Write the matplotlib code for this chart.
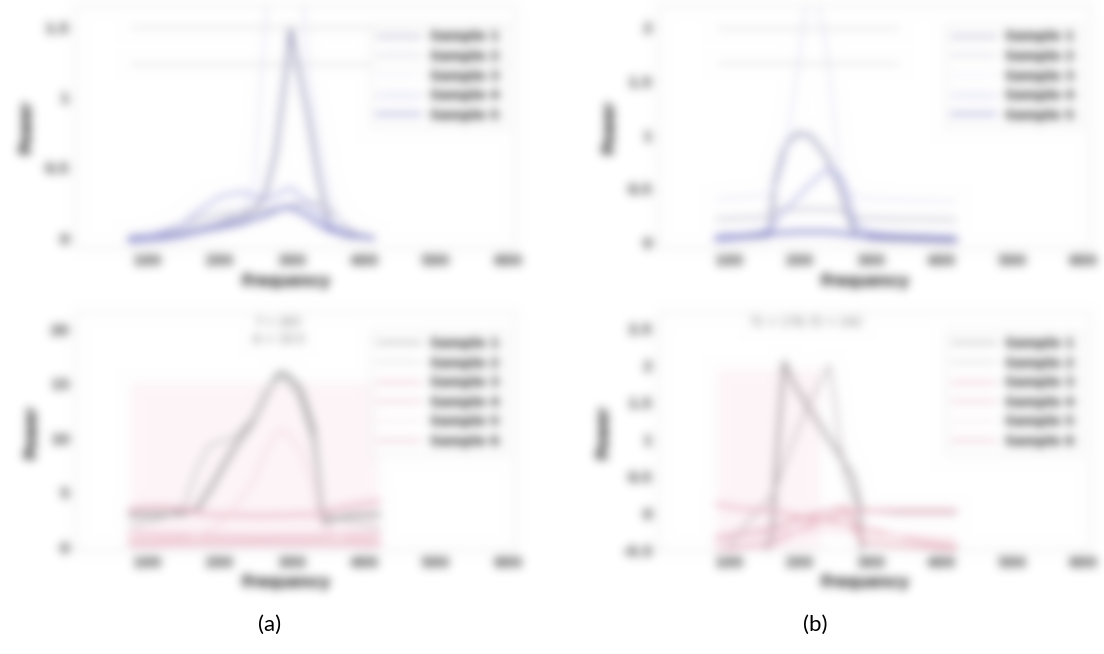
import numpy as np
import matplotlib
matplotlib.use("Agg")
import matplotlib.pyplot as plt

# ---------------------------------------------------------------- data
X_LIM = (0, 610)
X_TICKS = [100, 200, 300, 400, 500, 600]
X_TICK_LABELS = ["100", "200", "300", "400", "500", "600"]
X_LABEL = "Frequency"
Y_LABEL = "Power"

SERIES_LABELS_TOP = ["Sample 1", "Sample 2", "Sample 3", "Sample 4", "Sample 5"]
SERIES_LABELS_BOTTOM = ["Sample 1", "Sample 2", "Sample 3", "Sample 4",
                        "Sample 5", "Sample 6"]

# (a) upper panel
XA = [76, 100, 125, 150, 173, 203, 233, 248, 263, 278, 293, 299, 308, 323,
      338, 353, 368, 383, 398, 413]
A1 = [0.01, 0.02, 0.03, 0.05, 0.08, 0.11, 0.15, 0.2, 0.3, 0.6, 1.2, 1.49,
      1.25, 0.88, 0.42, 0.08, 0.03, 0.01, 0.01, 0.0]
A2 = [0.0, 0.01, 0.02, 0.04, 0.08, 0.12, 0.2, 0.38, 1.45, 2.6, 3.2, 3.1,
      2.4, 1.2, 0.7, 0.3, 0.1, 0.03, 0.01, 0.0]
A3 = [0.0, 0.02, 0.05, 0.1, 0.2, 0.3, 0.33, 0.3, 0.28, 0.3, 0.35, 0.36,
      0.32, 0.25, 0.18, 0.1, 0.05, 0.02, 0.01, 0.0]
A4 = [-0.02, -0.01, 0.0, 0.02, 0.05, 0.08, 0.11, 0.14, 0.16, 0.2, 0.22, 0.22,
      0.2, 0.16, 0.1, 0.06, 0.04, 0.02, 0.01, 0.0]
A5 = [0.0, 0.02, 0.05, 0.1, 0.15, 0.17, 0.19, 0.2, 0.2, 0.21, 0.22, 0.23,
      0.24, 0.25, 0.25, 0.2, 0.12, 0.05, 0.02, 0.01]
A_REF = [1.5, 1.24]
A_YTICKS = [0, 0.5, 1, 1.5]
A_YTICK_LABELS = ["0", "0.5", "1", "1.5"]
A_YLIM = (-0.07, 1.66)

# (b) upper panel
XB = [83, 100, 115, 130, 150, 158, 165, 179, 197, 216, 238, 258, 266, 276,
      280, 300, 336, 380, 420]
B1 = [0.02, 0.03, 0.04, 0.05, 0.06, 0.07, 0.56, 0.89, 1.02, 0.99, 0.8, 0.49,
      0.3, 0.12, 0.08, 0.04, 0.03, 0.02, 0.01]
B2 = [0.02, 0.03, 0.04, 0.06, 0.1, 0.14, 0.2, 0.3, 0.42, 0.55, 0.68, 0.62,
      0.49, 0.25, 0.15, 0.09, 0.06, 0.04, 0.03]
B3 = [0.22, 0.22, 0.23, 0.23, 0.24, 0.26, 0.3, 0.31, 0.31, 0.31, 0.31, 0.3,
      0.27, 0.24, 0.23, 0.23, 0.22, 0.22, 0.21]
B4 = [0.05, 0.06, 0.06, 0.07, 0.08, 0.08, 0.09, 0.09, 0.1, 0.1, 0.1, 0.09,
      0.08, 0.07, 0.07, 0.06, 0.06, 0.05, 0.04]
B5 = [0.4, 0.41, 0.42, 0.43, 0.44, 0.45, 0.5, 0.8, 1.6, 2.6, 1.8, 0.6, 0.48,
      0.44, 0.43, 0.41, 0.4, 0.39, 0.38]
B_REF = [2.0, 1.67]
B_YTICKS = [0, 0.5, 1, 1.5, 2]
B_YTICK_LABELS = ["0", "0.5", "1", "1.5", "2"]
B_YLIM = (-0.05, 2.21)

# (a) lower panel
XC = [76, 90, 115, 150, 169, 187, 207, 225, 247, 266, 283, 293, 312, 330,
      336, 340, 344, 360, 380, 409, 422]
C1 = [3.0, 3.0, 3.0, 3.1, 3.5, 5.3, 7.6, 9.6, 11.6, 14.2, 16.0, 15.9, 14.6,
      10.9, 7.2, 4.8, 2.3, 2.6, 2.9, 3.0, 3.0]
C2 = [2.0, 2.2, 2.6, 3.6, 7.2, 9.4, 9.8, 10.2, 11.8, 14.4, 15.6, 15.4, 13.8,
      10.0, 6.8, 4.6, 3.0, 2.8, 2.4, 2.0, 1.8]
C3 = [3.4, 3.6, 3.7, 3.5, 3.2, 3.0, 3.0, 2.95, 2.9, 2.9, 2.95, 2.95, 3.0,
      3.0, 3.05, 3.1, 3.2, 3.5, 3.8, 4.1, 4.2]
C4 = [1.2, 1.2, 1.15, 1.1, 1.05, 1.0, 1.0, 1.0, 0.95, 0.95, 1.0, 1.0, 1.0,
      1.0, 1.0, 1.05, 1.05, 1.1, 1.1, 1.15, 1.2]
C5 = [0.5, 0.5, 0.6, 0.8, 1.0, 1.5, 2.5, 4.0, 6.0, 9.0, 10.8, 10.6, 9.0, 6.0,
      4.0, 3.0, 2.0, 1.2, 0.8, 0.6, 0.5]
C6 = [0.3, 0.3, 0.3, 0.32, 0.33, 0.35, 0.35, 0.36, 0.36, 0.37, 0.37, 0.37,
      0.36, 0.35, 0.35, 0.34, 0.34, 0.33, 0.32, 0.3, 0.3]
C_YTICKS = [0, 5, 10, 15, 20]
C_YTICK_LABELS = ["0", "5", "10", "15", "20"]
C_YLIM = (-0.25, 21.6)

# (b) lower panel
XD = [83, 95, 105, 120, 141, 161, 168, 178, 190, 211, 230, 242, 250, 256,
      265, 275, 283, 290, 310, 340, 380, 420]
D1 = [-0.8, -0.8, -0.8, -0.8, -0.8, -0.3, 0.8, 2.05, 1.78, 1.45, 1.17, 0.99,
      0.88, 0.79, 0.65, 0.5, 0.2, -0.8, -0.8, -0.8, -0.8, -0.8]
D2 = [-0.8, -0.55, -0.4, -0.2, 0.03, 0.22, 0.4, 0.65, 0.95, 1.45, 1.78, 2.0,
      1.5, 1.0, 0.5, 0.2, 0.1, 0.05, 0.02, 0.0, 0.0, 0.0]
D3 = [-0.5, -0.48, -0.47, -0.45, -0.43, -0.41, -0.38, -0.33, -0.27, -0.18,
      -0.1, -0.08, -0.07, -0.02, 0.01, 0.03, 0.03, 0.03, 0.03, 0.03, 0.03, 0.03]
D4 = [0.12, 0.1, 0.08, 0.06, 0.04, 0.03, 0.02, 0.0, -0.03, -0.07, -0.1,
      -0.11, -0.12, -0.13, -0.15, -0.17, -0.19, -0.2, -0.25, -0.32, -0.4, -0.45]
D5 = [-0.3, -0.3, -0.29, -0.28, -0.27, -0.26, -0.26, -0.25, -0.25, -0.24,
      -0.24, -0.24, -0.25, -0.25, -0.26, -0.27, -0.28, -0.29, -0.3, -0.31,
      -0.32, -0.33]
D6 = [-0.35, -0.33, -0.3, -0.28, -0.25, -0.22, -0.2, -0.15, -0.1, -0.05,
      0.0, 0.02, 0.05, 0.06, 0.08, -0.1, -0.3, -0.4, -0.42, -0.44, -0.46, -0.48]
D_YTICKS = [-0.5, 0, 0.5, 1, 1.5, 2, 2.5]
D_YTICK_LABELS = ["-0.5", "0", "0.5", "1", "1.5", "2", "2.5"]
D_YLIM = (-0.5, 2.72)

PANEL_LABELS = ["(a)", "(b)"]

# ---------------------------------------------------------------- styles
TOP_COLORS = ["#8080a8", "#b0b0c4", "#dadaf6", "#a4a4e0", "#7878c4"]
TOP_WIDTHS = [2.0, 1.6, 1.2, 1.8, 2.6]
BOT_COLORS = ["#767676", "#b4b4b4", "#e6a8ba", "#e8b0c0", "#f4d2dc", "#dc98ac"]
BOT_WIDTHS = [2.0, 1.4, 2.4, 2.4, 1.6, 2.0]
BOT_B_COLORS = ["#8e8488", "#b4a8ac", "#e6a8ba", "#e8b0c0", "#f4d2dc", "#dc98ac"]


class SoftFocus:
    """Gaussian blur used as an Agg post-processing filter."""

    def __init__(self, sigma_px):
        self.sigma = sigma_px

    def __call__(self, im, dpi):
        s = self.sigma * dpi / 100.0
        pad = int(np.ceil(3 * s))
        a = np.pad(im, ((pad, pad), (pad, pad), (0, 0))).astype(float)
        pre = a.copy()
        pre[..., :3] *= a[..., 3:4]
        r = np.arange(-pad, pad + 1)
        k = np.exp(-0.5 * (r / s) ** 2)
        k /= k.sum()
        for axis in (0, 1):
            out = np.zeros_like(pre)
            for off, w in zip(r, k):
                out += w * np.roll(pre, off, axis=axis)
            pre = out
        res = pre.copy()
        al = pre[..., 3:4]
        safe = np.where(al > 1e-6, al, 1.0)
        res[..., :3] = np.where(al > 1e-6, pre[..., :3] / safe, 0.0)
        return np.clip(res, 0.0, 1.0), -pad, -pad


W, H = 1104, 654
fig = plt.figure(figsize=(W / 100, H / 100), dpi=100)
fig.patch.set_facecolor("white")


def px_axes(left, top, right, bottom):
    return fig.add_axes([left / W, 1 - bottom / H, (right - left) / W,
                         (bottom - top) / H])


def style_axes(ax, yticks, ylabels, ylim):
    ax.set_xlim(*X_LIM)
    ax.set_ylim(*ylim)
    ax.set_xticks(X_TICKS)
    ax.set_xticklabels(X_TICK_LABELS)
    ax.set_yticks(yticks)
    ax.set_yticklabels(ylabels)
    ax.tick_params(labelsize=10, colors="#dddddd", labelcolor="#3a3a3a",
                   length=2, pad=2)
    for lab in ax.get_xticklabels() + ax.get_yticklabels():
        lab.set_fontweight("bold")
    for sp in ax.spines.values():
        sp.set_color("#e2e2e2")
    ax.set_xlabel(X_LABEL, fontsize=11, color="#111111", fontweight="bold")
    ax.set_ylabel(Y_LABEL, fontsize=11, color="#111111", fontweight="bold",
                  labelpad=8)
    ax.xaxis.set_label_coords(0.48, -0.105)


def add_legend(ax, handles, labels):
    leg = ax.legend(handles, labels, loc="upper right",
                    bbox_to_anchor=(0.995, 0.95), fontsize=9.5,
                    labelspacing=0.5, handlelength=3.2, frameon=True,
                    edgecolor="#e0e0e0", fancybox=False, borderpad=0.5)
    for t in leg.get_texts():
        t.set_color("#111111")
        t.set_fontweight("bold")
    for h in leg.get_lines():
        h.set_alpha(0.6)
    return leg


blur = SoftFocus(4.8)

# (a) upper
ax = px_axes(75, 5, 515, 248)
la = [ax.plot(XA, y, color=c, lw=lw)[0]
      for y, c, lw in zip([A1, A5, A2, A3, A4], TOP_COLORS, TOP_WIDTHS)]
ax.hlines(A_REF, XA[0], 600, color="#e4e4e4", lw=2.0, zorder=0)
style_axes(ax, A_YTICKS, A_YTICK_LABELS, A_YLIM)
add_legend(ax, la, SERIES_LABELS_TOP)
ax.set_agg_filter(blur)

# (b) upper
ax = px_axes(658, 5, 1090, 248)
lb = [ax.plot(XB, y, color=c, lw=lw)[0]
      for y, c, lw in zip([B1, B3, B5, B2, B4], TOP_COLORS, TOP_WIDTHS)]
ax.hlines(B_REF, XB[0], XB[-1] - 80, color="#e4e4e4", lw=2.0, zorder=0)
style_axes(ax, B_YTICKS, B_YTICK_LABELS, B_YLIM)
add_legend(ax, lb, SERIES_LABELS_TOP)
ax.set_agg_filter(blur)

# (a) lower
ax = px_axes(75, 312, 515, 550)
ax.fill_between(XC, C_YLIM[0], max(C1) * 0.95, color="#fdf5f8", lw=0,
                zorder=0)
lc = [ax.plot(XC, y, color=c, lw=lw)[0]
      for y, c, lw in zip([C1, C2, C3, C4, C5, C6], BOT_COLORS, BOT_WIDTHS)]
ic = int(np.argmax(C1))
ax.text(XC[ic], C_YLIM[1] - 0.4, f"f = {XC[ic]}\nA = {C1[ic]:.1f}\n",
        ha="center", va="top", fontsize=8.5, color="#666666", linespacing=1.4)
style_axes(ax, C_YTICKS, C_YTICK_LABELS, C_YLIM)
add_legend(ax, lc, SERIES_LABELS_BOTTOM)
ax.set_agg_filter(blur)

# (b) lower
ax = px_axes(658, 312, 1090, 550)
xd = np.array(XD)
mask = xd <= XD[10]
ax.fill_between(xd[mask], D_YLIM[0], max(D1) * 0.95, color="#fdf5f8", lw=0,
                zorder=0)
ld = [ax.plot(XD, y, color=c, lw=lw)[0]
      for y, c, lw in zip([D1, D2, D3, D4, D5, D6], BOT_B_COLORS, BOT_WIDTHS)]
i1, i2 = int(np.argmax(D1)), int(np.argmax(D2))
ax.text((XD[i1] + XD[i2]) / 2, D_YLIM[1] - 0.06,
        f"f1 = {XD[i1]}, f2 = {XD[i2]}\n\n",
        ha="center", va="top", fontsize=8.5, color="#666666", linespacing=1.5)
style_axes(ax, D_YTICKS, D_YTICK_LABELS, D_YLIM)
add_legend(ax, ld, SERIES_LABELS_BOTTOM)
ax.set_agg_filter(blur)

# panel captions
for label, xc in zip(PANEL_LABELS, [270, 815]):
    fig.text(xc / W, 1 - 625 / H, label, ha="center", va="center",
             fontsize=16, family=["Lato", "DejaVu Sans"])

fig.savefig("out.png", dpi=100, facecolor="white")
